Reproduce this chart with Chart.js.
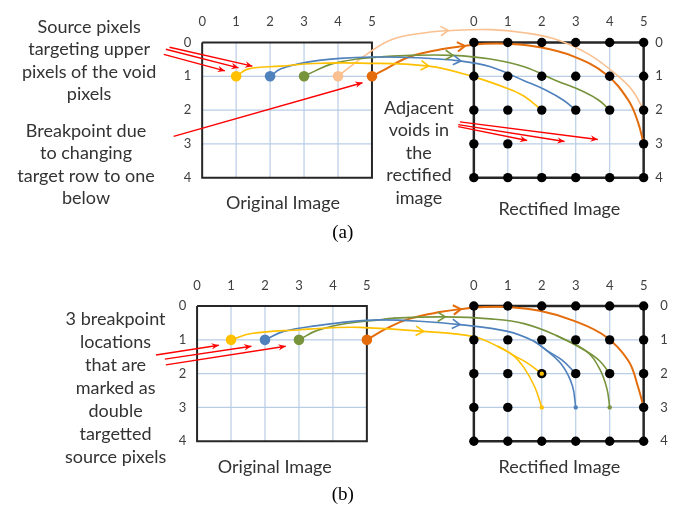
<!DOCTYPE html>
<html><head><meta charset="utf-8">
<script src="https://cdn.jsdelivr.net/npm/chart.js@4/dist/chart.umd.min.js"></script>
<style>html,body{margin:0;padding:0;background:#fff}canvas{display:block}</style>
</head><body>
<canvas id="c" width="677" height="513"></canvas>
<script>
// ---------- data ----------
const cols = [0,1,2,3,4,5];
const rows = [0,1,2,3,4];
const colLabels = ['0','1','2','3','4','5'];
const rowLabels = ['0','1','2','3','4'];

// source pixels (column in row 1 of the original image) per panel
const srcColsA = [1,2,3,4,5];
const srcColsB = [1,2,3,5];
// void cells in rectified image
const voidsA = [[2,3],[3,3],[4,3]];
const voidsB = [[2,3],[3,3],[4,3]];
// double targeted cells in (b): [col,row,colourIndex]
const doubleB = [[2,2,0],[2,3,0],[3,3,1],[4,3,2]];

// mapping curves (diagram units, x: orig col, rect col = 8 + col; y: row)
const curveA_yellow = [[1,1],[1.36,0.78],[2.32,0.70],[3.28,0.62],[4.64,0.61],[6.67,0.70],[7.97,1.01],[8.99,1.36],[9.48,1.59],[10,2]];
const curveA_blue   = [[2,1],[2.32,0.78],[3.1,0.58],[4.06,0.47],[5.01,0.43],[6.3,0.45],[7.62,0.55],[8.49,0.72],[9.48,1.13],[10.14,1.42],[10.64,1.71],[11,2]];
const curveA_green  = [[3,1],[3.33,0.84],[3.8,0.64],[4.55,0.49],[5.22,0.43],[6.14,0.38],[7.39,0.38],[8.49,0.49],[9.48,0.72],[10.43,1.13],[11.22,1.45],[11.68,1.71],[12,2]];
const curveA_peach  = [[4,1],[4.35,0.72],[4.84,0.35],[5.59,-0.09],[6.58,-0.29],[7.25,-0.35],[8.49,-0.38],[9.48,-0.29],[10.43,-0.09],[11.39,0.35],[12.17,0.93],[12.67,1.42],[13,2]];
const curveA_orange = [[5,1],[5.3,0.84],[6.09,0.43],[7.04,0.2],[7.74,0.1],[8.3,0.04],[9.0,0.04],[9.94,0.14],[10.93,0.41],[11.88,0.93],[12.55,1.71],[12.84,2.38],[13,3]];

const curveB_yellow  = [[0.85,1],[1.45,0.81],[2.9,0.70],[3.86,0.64],[4.64,0.63],[6.52,0.75],[7.97,0.9],[8.7,1.19],[9.15,1.45],[9.57,1.68],[10,2]];
const curveB_yellow2 = [[8.7,1.19],[9.15,1.45],[9.48,1.83],[9.8,2.41],[10,3]];
const curveB_blue    = [[1.85,1],[2.4,0.75],[3.39,0.58],[4.35,0.46],[5.22,0.41],[6.4,0.45],[7.59,0.55],[8.99,0.75],[9.77,1.04],[10.14,1.31],[10.6,1.6],[11,2]];
const curveB_blue2   = [[9.77,1.04],[10.14,1.31],[10.6,1.75],[10.9,2.35],[11,3]];
const curveB_green   = [[2.85,1],[3.39,0.72],[4.35,0.5],[5.22,0.41],[5.59,0.36],[7.16,0.32],[8.49,0.38],[9.48,0.52],[10.43,0.87],[11.3,1.33],[11.7,1.62],[12,2]];
const curveB_green2  = [[10.43,0.87],[11.3,1.33],[11.7,1.85],[11.92,2.45],[12,3]];
const curveB_orange  = [[4.85,1],[5.42,0.67],[6.09,0.38],[7.04,0.17],[7.62,0.09],[8.3,0.03],[9.0,0.03],[9.94,0.14],[10.93,0.43],[11.88,0.9],[12.55,1.62],[12.84,2.41],[13,3]];

// red annotation arrows [from, to]
const redArrowsA = [
  [[-1.13,0.35],[0.67,0.84]], [[-1.07,0.2],[1.07,0.75]], [[-0.96,0.14],[1.48,0.70]],
  [[-0.84,2.78],[4.72,1.19]],
  [[7.59,2.35],[11.65,2.87]], [[7.54,2.43],[10.67,2.93]], [[7.54,2.49],[9.57,2.90]]
];
const redArrowsB = [
  [[-1.36,1.45],[0.49,1.16]], [[-1.1,1.57],[1.45,1.19]], [[-1.07,1.74],[2.46,1.19]]
];

const textBlocks = [
  {lines:['Source pixels','targeting upper','pixels of the void','pixels'], x:-3.33, y:-0.46, lh:0.667},
  {lines:['Breakpoint due','to changing','target row to one','below'], x:-3.42, y:2.61, lh:0.667},
  {lines:['Original Image'], x:2.38, y:4.75, lh:0.667},
  {lines:['Adjacent','voids in','the','rectified','image'], x:6.38, y:1.94, lh:0.667},
  {lines:['Rectified Image'], x:10.52, y:4.93, lh:0.667},
  {lines:['3 breakpoint','locations','that are','marked as','double','targetted','source pixels'], x:-2.55, y:8.2, lh:0.68},
  {lines:['Original Image'], x:2.14, y:12.58, lh:0.667},
  {lines:['Rectified Image'], x:10.52, y:12.58, lh:0.667}
];
const captions = [{t:'(a)', x:4.14, y:5.65},{t:'(b)', x:4.14, y:13.39}];

// ---------- layout / styles ----------
const PANEL_B_DY = 7.8;
const grids = [
  {ox:0, oy:0, rect:false, rl:0.43}, {ox:8, oy:0, rect:true, rl:0.45},
  {ox:-0.15, oy:PANEL_B_DY, rect:false, rl:0.43}, {ox:8, oy:PANEL_B_DY, rect:true, rl:0.6}
];
const COLORS = ['#FFC000','#4F81BD','#77933C','#FAC090','#E46C0A'];
const GRIDC = '#B9CDE5', BORDERC = '#262626', RED = '#FF0000';
const SRC_COLOR_A = ['#FFC000','#4F81BD','#77933C','#FAC090','#E46C0A'];
const SRC_COLOR_B = ['#FFC000','#4F81BD','#77933C','#E46C0A'];

const pts = (arr, dy=0) => arr.map(p => ({x:p[0], y:p[1]+dy}));
const datasets = [];
function line(data, color, width, order, extra={}) {
  datasets.push(Object.assign({data, showLine:true, borderColor:color, backgroundColor:color,
    borderWidth:width, pointRadius:0, pointHoverRadius:0, tension:0, fill:false, order}, extra));
}
// grids
grids.forEach(g => {
  cols.slice(1,-1).forEach(c => line([{x:g.ox+c,y:g.oy},{x:g.ox+c,y:g.oy+4}], GRIDC, 1.2, 90));
  rows.slice(1,-1).forEach(r => line([{x:g.ox,y:g.oy+r},{x:g.ox+5,y:g.oy+r}], GRIDC, 1.2, 90));
  line([{x:g.ox,y:g.oy},{x:g.ox+5,y:g.oy},{x:g.ox+5,y:g.oy+4},{x:g.ox,y:g.oy+4},{x:g.ox,y:g.oy}], BORDERC, g.rect?2.5:2, 80);
});
// curves
const curveDefs = [
  [curveA_yellow,0,0,1.6,5],[curveA_blue,0,1,1.6,6],[curveA_green,0,2,1.6,6],[curveA_peach,0,3,1.6,5],[curveA_orange,0,4,2,4],
  [curveB_yellow,PANEL_B_DY,0,1.6,5],[curveB_yellow2,PANEL_B_DY,0,1.6,-1],[curveB_blue,PANEL_B_DY,1,1.6,6],[curveB_blue2,PANEL_B_DY,1,1.6,-1],
  [curveB_green,PANEL_B_DY,2,1.6,5],[curveB_green2,PANEL_B_DY,2,1.6,-1],[curveB_orange,PANEL_B_DY,4,2,4]
];
curveDefs.forEach(([arr,dy,ci,w,ai]) => line(pts(arr,dy), COLORS[ci], w, 60, {tension:0.4, arrowAt:ai}));
// black dots in rectified grids
[[grids[1],voidsA],[grids[3],voidsB]].forEach(([g,voids]) => {
  const d = [];
  rows.forEach(r => cols.forEach(c => {
    if (!voids.some(v => v[0]===c && v[1]===r)) d.push({x:g.ox+c, y:g.oy+r});
  }));
  datasets.push({data:d, pointRadius:4.7, pointBackgroundColor:'#000', pointBorderWidth:0, showLine:false, order:40});
});
// double targeted marks (b)
datasets.push({data:doubleB.map(v=>({x:grids[3].ox+v[0], y:grids[3].oy+v[1]})),
  pointRadius:2.2, pointBackgroundColor:doubleB.map(v=>COLORS[v[2]]), pointBorderWidth:0, showLine:false, order:35});
// source dots
datasets.push({data:srcColsA.map(c=>({x:grids[0].ox+c, y:grids[0].oy+1})), pointRadius:5.3,
  pointBackgroundColor:SRC_COLOR_A, pointBorderWidth:0, showLine:false, order:30});
datasets.push({data:srcColsB.map(c=>({x:grids[2].ox+c, y:grids[2].oy+1})), pointRadius:5.3,
  pointBackgroundColor:SRC_COLOR_B, pointBorderWidth:0, showLine:false, order:30});
// red arrows
redArrowsA.forEach(a => line(pts(a,0), RED, 1.4, 10, {redArrow:true}));
redArrowsB.forEach(a => line(pts(a,PANEL_B_DY), RED, 1.4, 10, {redArrow:true}));

// ---------- plugin for arrowheads & text ----------
const FONT = 'Lato, "Open Sans", sans-serif';
const deco = {
  id:'deco',
  afterDatasetsDraw(chart) {
    const ctx = chart.ctx, xs = chart.scales.x, ys = chart.scales.y;
    const X = v => xs.getPixelForValue(v), Y = v => ys.getPixelForValue(v);
    chart.data.datasets.forEach((ds, i) => {
      const meta = chart.getDatasetMeta(i);
      if (ds.arrowAt !== undefined && ds.arrowAt >= 0) {
        const p = meta.data[ds.arrowAt];
        let dx, dy;
        if (p.cp1x !== undefined && p.cp2x !== undefined) { dx = p.cp2x - p.cp1x; dy = p.cp2y - p.cp1y; }
        else { const a = meta.data[ds.arrowAt-1], b = meta.data[ds.arrowAt+1]; dx = b.x-a.x; dy = b.y-a.y; }
        const ang = Math.atan2(dy, dx), L = 9, s = 0.55;
        ctx.save(); ctx.strokeStyle = ds.borderColor; ctx.lineWidth = ds.borderWidth; ctx.lineJoin='miter';
        ctx.beginPath();
        ctx.moveTo(p.x - L*Math.cos(ang - s), p.y - L*Math.sin(ang - s));
        ctx.lineTo(p.x, p.y);
        ctx.lineTo(p.x - L*Math.cos(ang + s), p.y - L*Math.sin(ang + s));
        ctx.stroke(); ctx.restore();
      }
      if (ds.redArrow) {
        const a = meta.data[0], b = meta.data[1];
        const ang = Math.atan2(b.y-a.y, b.x-a.x), L = 8, s = 0.42;
        ctx.save(); ctx.fillStyle = RED; ctx.beginPath();
        ctx.moveTo(b.x, b.y);
        ctx.lineTo(b.x - L*Math.cos(ang - s), b.y - L*Math.sin(ang - s));
        ctx.lineTo(b.x - L*0.6*Math.cos(ang), b.y - L*0.6*Math.sin(ang));
        ctx.lineTo(b.x - L*Math.cos(ang + s), b.y - L*Math.sin(ang + s));
        ctx.closePath(); ctx.fill(); ctx.restore();
      }
    });
    ctx.save();
    ctx.fillStyle = '#404040'; ctx.textAlign = 'center'; ctx.textBaseline = 'middle';
    ctx.font = '13px ' + FONT;
    grids.forEach(g => {
      cols.forEach((c,k) => ctx.fillText(colLabels[k], X(g.ox+c), Y(g.oy-0.61)));
      rows.forEach((r,k) => ctx.fillText(rowLabels[k], X(g.rect ? g.ox+5+g.rl : g.ox-g.rl), Y(g.oy+r)));
    });
    ctx.fillStyle = '#333';
    ctx.font = '18px ' + FONT;
    textBlocks.forEach(b => b.lines.forEach((t,k) => ctx.fillText(t, X(b.x), Y(b.y + k*b.lh))));
    ctx.fillStyle = '#000';
    ctx.font = '19px "Liberation Serif", serif';
    captions.forEach(c => ctx.fillText(c.t, X(c.x), Y(c.y)));
    ctx.restore();
  }
};

new Chart(document.getElementById('c'), {
  type:'scatter',
  data:{datasets},
  options:{
    responsive:false, animation:false, devicePixelRatio:1,
    layout:{padding:0},
    plugins:{legend:{display:false}, tooltip:{enabled:false}},
    events:[],
    scales:{
      x:{type:'linear', min:-5.797, max:13.826, display:false},
      y:{type:'linear', min:-1.101, max:13.768, reverse:true, display:false}
    }
  },
  plugins:[deco]
});
</script>
</body></html>
